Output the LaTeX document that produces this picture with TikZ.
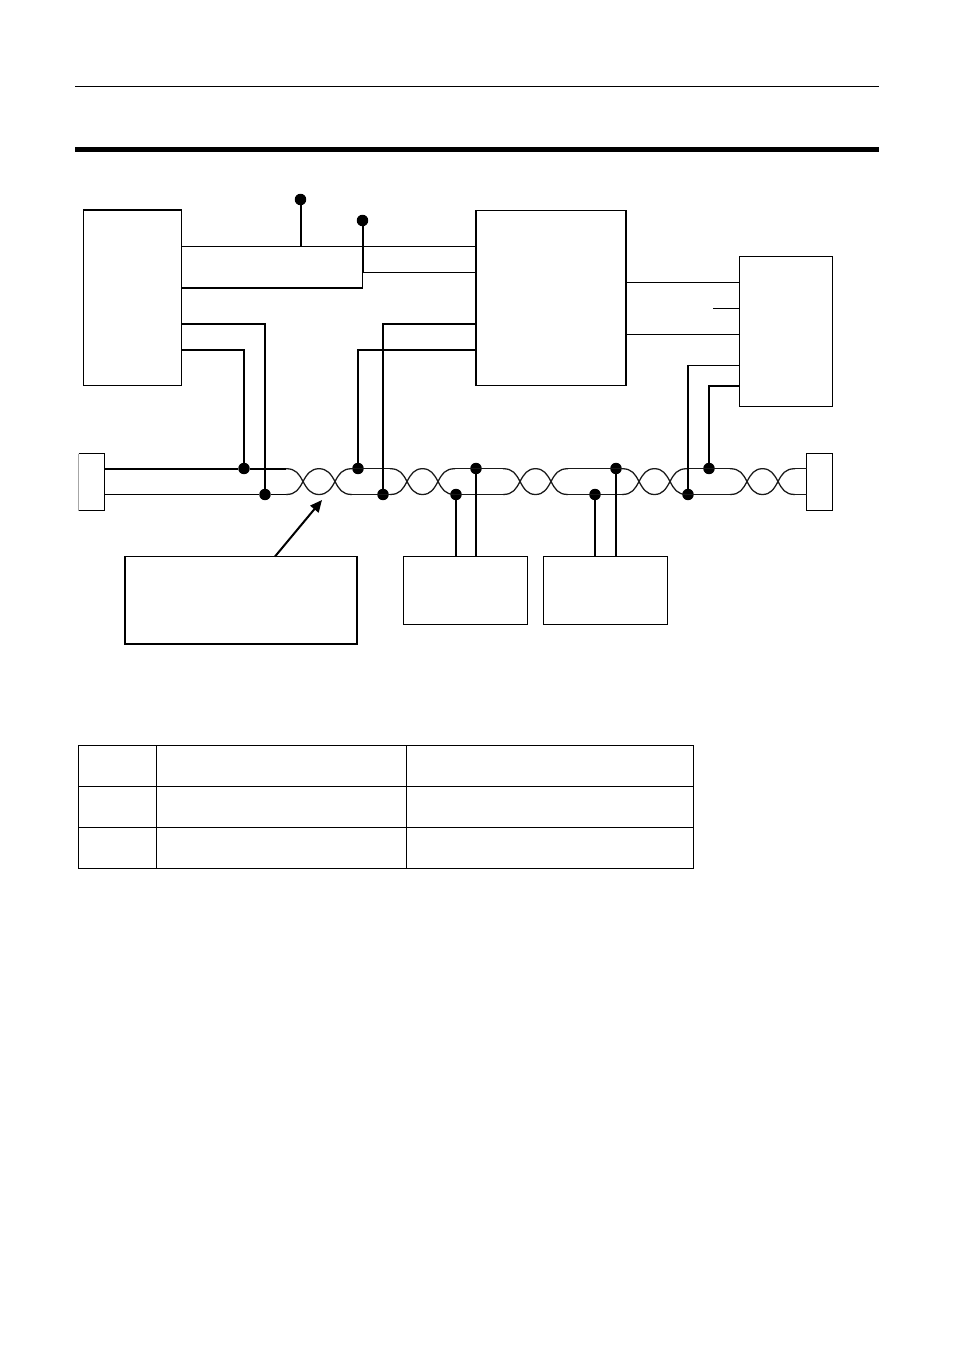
\documentclass[tikz,border=0pt]{standalone}
\usetikzlibrary{arrows.meta}
\newcommand{\pxbox}[6][boxthin]{\node[#1,minimum width={(#5-#3)*0.75pt},minimum height={(#6-#4)*0.75pt}] (#2) at ({(#3+#5)/2},{(#4+#6)/2}) {};}
\begin{document}
\begin{tikzpicture}[x=0.75pt,y=-0.75pt,
  boxthin/.style={draw=black,fill=white,inner sep=0pt,outer sep=0pt,line width=0.8pt},
  boxthick/.style={draw=black,fill=white,inner sep=0pt,outer sep=0pt,line width=1.3pt},
  boxopen/.style={fill=white,inner sep=0pt,outer sep=0pt},
  dot/.style={circle,fill=black,inner sep=0pt,outer sep=0pt,minimum size=8.6pt},
  thinw/.style={line width=0.8pt,black},
  thickw/.style={line width=1.5pt,black},
  midw/.style={line width=1.1pt,black},
  twistw/.style={line width=0.95pt,black!90},
  cell/.style={draw=black,line width=0.75pt}]
\useasboundingbox (0,0) rectangle (954,1351);
\fill[white] (0,0) rectangle (954,1351);
% header rules
\coordinate (ruleAL) at (75,86.5); \coordinate (ruleAR) at (878.5,86.5);
\coordinate (ruleBL) at (75,149.5); \coordinate (ruleBR) at (878.5,149.5);
\draw[line width=0.75pt] (ruleAL) -- (ruleAR);
\draw[line width=3.2pt] (ruleBL) -- (ruleBR);
% boxes
\pxbox[boxthick]{A}{83.5}{210}{181.5}{385.5}
\pxbox[boxthick]{B}{476}{210.5}{626}{385.5}
\pxbox{C}{739.5}{256.5}{832.5}{406.5}
\pxbox[boxopen]{L}{78.5}{453.5}{104.5}{510.5}
\pxbox{R}{806.5}{453.5}{832.5}{510.5}
\pxbox[boxthick]{N}{125}{556.5}{357}{644}
\pxbox{D}{403.5}{556.5}{527.5}{624.5}
\pxbox{E}{543.5}{556.5}{667.5}{624.5}
\draw[thinw] (L.north west) -- (L.north east) -- (L.south east) -- (L.south west);
\draw[line width=0.5pt,black!35] (L.north west) -- (L.south west);
% dots
\node[dot] (t1) at (300.5,199.5) {};
\node[dot] (t2) at (362.5,220.5) {};
\node[dot] (a1) at (244,468.5) {};
\node[dot] (a2) at (265,494.5) {};
\node[dot] (b1) at (358,468.5) {};
\node[dot] (b2) at (383,494.5) {};
\node[dot] (d1) at (456,494.5) {};
\node[dot] (d2) at (476,468.5) {};
\node[dot] (e1) at (595,494.5) {};
\node[dot] (e2) at (616,468.5) {};
\node[dot] (c1) at (688,494.5) {};
\node[dot] (c2) at (709,468.5) {};
% twisted pair
\foreach \u/\v in {303/335,407/438,520/551,639/670,747/778}{
  \draw[twistw] ({\u-17},468.7) .. controls ({\u-7},468.7) and ({\u-4},474) .. (\u,481.5)
     .. controls ({\u+4},489) and ({(\u+\v)/2-8},494.5) .. ({(\u+\v)/2},494.5)
     .. controls ({(\u+\v)/2+8},494.5) and ({\v-4},489) .. (\v,481.5)
     .. controls ({\v+4},474) and ({\v+7},468.7) .. ({\v+17},468.7);
  \draw[twistw] ({\u-17},494.5) .. controls ({\u-7},494.5) and ({\u-4},489) .. (\u,481.5)
     .. controls ({\u+4},474) and ({(\u+\v)/2-8},468.7) .. ({(\u+\v)/2},468.7)
     .. controls ({(\u+\v)/2+8},468.7) and ({\v-4},474) .. (\v,481.5)
     .. controls ({\v+4},489) and ({\v+7},494.5) .. ({\v+17},494.5);
}
\draw[thickw] (L.east |- 0,468.8) -- (a1.west |- 0,468.8);
\draw[midw] (a1.east |- 0,468.8) -- (286,468.8);
\draw[thinw] (L.east |- 0,494.5) -- (a2);
\draw[thinw] (a2) -- (286,494.5);
\foreach \a/\b in {352/390,455/505,568/622,687/730}{
  \draw[twistw] (\a,468.7) -- (\b,468.7);
  \draw[twistw] (\a,494.5) -- (\b,494.5);
}
\draw[twistw] (795,468.7) -- (R.west |- 0,468.7);
\draw[twistw] (795,494.5) -- (R.west |- 0,494.5);
% top connections
\coordinate (j2) at (362.5,272.5);
\draw[thinw] (A.east |- 0,246.5) -- (B.west |- 0,246.5);
\draw[thickw] (t1) -- (t1 |- 0,247);
\draw[thickw] (t2) -- (j2);
\draw[thinw] (j2) -- (B.west |- j2);
\draw[thinw] (j2) -- (j2 |- 0,288);
\draw[thickw] (A.east |- 0,288) -- (363,288);
% A to wires
\draw[thickw] (A.east |- 0,324) -| (a2);
\draw[thickw] (A.east |- 0,350) -| (a1);
% B to wires
\draw[thickw] (B.west |- 0,324) -| (b2);
\draw[thickw] (B.west |- 0,350) -| (b1);
% B to C
\draw[thinw] (B.east |- 0,282.5) -- (C.west |- 0,282.5);
\draw[thinw] (B.east |- 0,334.5) -- (C.west |- 0,334.5);
\coordinate (stub) at (713,308.5);
\draw[thinw] (stub) -- (C.west |- stub);
% C to wires
\draw[thinw] (C.west |- 0,365.5) -- (c1 |- 0,365.5);
\draw[thickw] (c1 |- 0,365) -- (c1);
\draw[thickw] (C.west |- 0,386) -| (c2);
% tap boxes
\draw[thickw] (d1) -- (d1 |- D.north);
\draw[thickw] (d2) -- (d2 |- D.north);
\draw[thickw] (e1) -- (e1 |- E.north);
\draw[thickw] (e2) -- (e2 |- E.north);
% callout arrow
\coordinate (tip) at (322,500);
\draw[line width=1.5pt,-{Triangle[length=9pt,width=8pt]}] (N.north -| 275,0) -- (tip);
% table
\draw[cell] (78.5,745.5) rectangle (693.5,868.5);
\draw[cell] (78.5,786.5) -- (693.5,786.5);
\draw[cell] (78.5,827.5) -- (693.5,827.5);
\draw[cell] (156.5,745.5) -- (156.5,868.5);
\draw[cell] (406.5,745.5) -- (406.5,868.5);
\end{tikzpicture}
\end{document}
